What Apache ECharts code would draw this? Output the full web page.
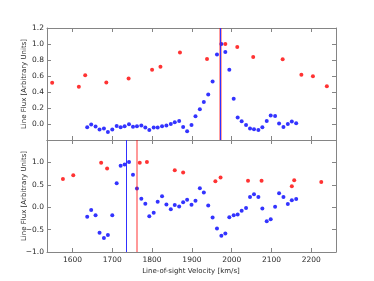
<!DOCTYPE html>
<html><head><meta charset="utf-8">
<script src="https://cdn.jsdelivr.net/npm/echarts@6/dist/echarts.min.js"></script>
<style>html,body{margin:0;padding:0;background:#fff}#c{width:374px;height:281px}</style>
</head><body><div id="c"></div>
<script>
// Shared velocity grid of the blue (sampled) points [km/s]
const blueVel = [1637,1647,1658,1668,1679,1689,1700,1711,1721,1731,1742,1752,1762,1773,1783,1793,1804,1814,1825,1836,1847,1857,1868,1878,1888,1899,1909,1920,1930,1941,1952,1963,1974,1984,1994,2005,2015,2025,2036,2046,2056,2067,2077,2088,2098,2109,2119,2130,2141,2151,2162];
const topBlue = [-0.04,-0.005,-0.03,-0.07,-0.057,-0.1,-0.07,-0.025,-0.041,-0.029,-0.004,-0.033,-0.029,-0.02,-0.045,-0.075,-0.045,-0.045,-0.029,-0.02,0.0,0.021,0.037,-0.037,-0.09,-0.012,0.096,0.183,0.274,0.37,0.532,0.868,1.0,0.9,0.677,0.316,0.08,0.034,-0.012,-0.057,-0.066,-0.075,-0.041,0.037,0.105,0.1,0.005,-0.037,0.0,0.03,0.009];
const bottomBlue = [-0.214,-0.065,-0.178,-0.573,-0.686,-0.618,-0.178,0.535,0.924,0.955,1.007,0.722,0.415,0.19,0.079,-0.2,-0.124,0.124,0.243,0.063,-0.043,0.047,0.018,0.108,0.169,0.056,0.146,0.422,0.326,0.04,-0.229,-0.476,-0.64,-0.589,-0.222,-0.178,-0.162,-0.079,-0.02,0.227,0.288,0.227,-0.027,-0.312,-0.267,0.011,0.31,0.227,0.07,0.153,0.182];
const topRedVel = [1549,1616,1632,1685,1741,1800,1821,1870,1938,1984,2014,2054,2128,2175,2204,2239];
const topRed = [0.516,0.466,0.61,0.52,0.57,0.677,0.715,0.893,0.814,1.0,0.964,0.839,0.81,0.615,0.598,0.473];
const bottomRedVel = [1576,1602,1672,1687,1769,1787,1857,1878,1959,1972,2041,2075,2151,2157,2225];
const bottomRed = [0.632,0.715,0.99,0.865,0.99,1.007,0.827,0.775,0.58,0.663,0.59,0.59,0.47,0.602,0.564];
// Vertical marker lines [km/s]
const topBlueLine = 1971, topRedLine = 1971;
const bottomBlueLine = 1735, bottomRedLine = 1762;
// Tick values
const xTicks = [1600,1700,1800,1900,2000,2100,2200];
const topYTicks = [0.0,0.2,0.4,0.6,0.8,1.0,1.2];
const bottomYTicks = [-1.0,-0.5,0.0,0.5,1.0];
const yName = 'Line Flux [Arbitrary Units]';
const xName = 'Line-of-sight Velocity [km/s]';

const zip = (xs, ys) => xs.map((x, i) => [x, ys[i]]);
const FONT = 'DejaVu Sans';
const frame = '#858585';
const txt = '#2a2a2a';
const lineStyle = {color: frame, width: 1};
function xAx(grid, pos, showLabels) {
  return {
    type: 'value', gridIndex: grid, position: pos, min: 1536, max: 2262,
    splitLine: {show: false},
    axisLine: {show: true, onZero: false, lineStyle},
    axisTick: {show: true, inside: true, length: 4, customValues: xTicks, lineStyle},
    axisLabel: {show: showLabels, customValues: xTicks, margin: 4, fontSize: 7.5, fontFamily: FONT, color: txt,
      formatter: v => String(Math.round(v))}
  };
}
function yAx(grid, pos, min, max, ticks, showLabels) {
  return {
    type: 'value', gridIndex: grid, position: pos, min, max,
    splitLine: {show: false},
    axisLine: {show: true, onZero: false, lineStyle},
    axisTick: {show: true, inside: true, length: 4, customValues: ticks, lineStyle},
    axisLabel: {show: showLabels, customValues: ticks, margin: 3, fontSize: 7.5, fontFamily: FONT, color: txt,
      formatter: v => (v < 0 ? '\u2212' + Math.abs(v).toFixed(1) : v.toFixed(1))}
  };
}
function vline(xIdx, yIdx, v, color, width, z) {
  return {type: 'scatter', xAxisIndex: xIdx, yAxisIndex: yIdx, data: [], z,
    markLine: {silent: true, symbol: 'none', label: {show: false}, z,
      lineStyle: {color, width, type: 'solid'}, data: [{xAxis: v}]}};
}
const dot = (xIdx, yIdx, data, color) => ({type: 'scatter', xAxisIndex: xIdx, yAxisIndex: yIdx, data,
  symbol: 'circle', symbolSize: 4, itemStyle: {color}, z: 2});
const label = (text, x, y, rot) => ({type: 'text', x, y, rotation: rot, silent: true,
  style: {text, fontSize: 7, fontFamily: FONT, fill: txt, align: 'center', verticalAlign: 'middle'}});

const chart = echarts.init(document.getElementById('c'), null, {renderer: 'canvas'});
chart.setOption({
  animation: false,
  backgroundColor: '#fff',
  grid: [
    {left: 47, top: 28, width: 289, height: 112},
    {left: 47, top: 140, width: 289, height: 112}
  ],
  xAxis: [
    xAx(0, 'bottom', false), xAx(0, 'top', false),
    xAx(1, 'bottom', true), xAx(1, 'top', false)
  ],
  yAxis: [
    yAx(0, 'left', -0.2, 1.2, topYTicks, true), yAx(0, 'right', -0.2, 1.2, topYTicks, false),
    yAx(1, 'left', -1.0, 1.5, bottomYTicks, true), yAx(1, 'right', -1.0, 1.5, bottomYTicks, false)
  ],
  graphic: [
    label(yName, 24, 84, Math.PI / 2),
    label(yName, 24, 196, Math.PI / 2),
    label(xName, 191, 271.5, 0)
  ],
  series: [
    dot(0, 0, zip(topRedVel, topRed), '#ff0000'),
    dot(0, 0, zip(blueVel, topBlue), '#0000ff'),
    vline(0, 0, topRedLine, 'rgba(255,0,0,0.5)', 2.5, 5),
    vline(0, 0, topBlueLine, '#3030ff', 1, 6),
    dot(2, 2, zip(bottomRedVel, bottomRed), '#ff0000'),
    dot(2, 2, zip(blueVel, bottomBlue), '#0000ff'),
    vline(2, 2, bottomBlueLine, '#3030ff', 1, 6),
    vline(2, 2, bottomRedLine, 'rgba(255,0,0,0.4)', 2, 5)
  ]
});
</script></body></html>
